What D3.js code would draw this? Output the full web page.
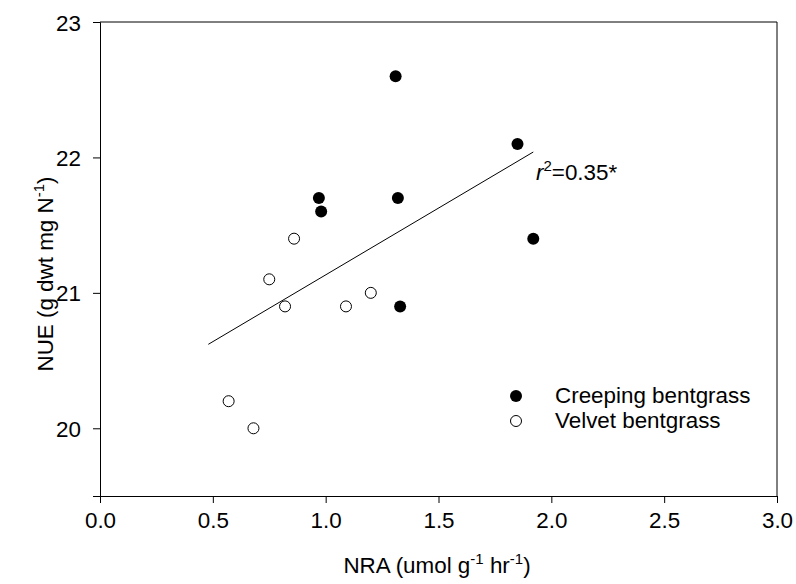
<!DOCTYPE html>
<html>
<head>
<meta charset="utf-8">
<script src="https://cdn.jsdelivr.net/npm/d3@7"></script>
<style>
  body { margin: 0; background: #fff; }
  svg text { font-family: "Liberation Sans", Arial, sans-serif; fill: #000; }
</style>
</head>
<body>
<svg id="chart" width="796" height="584"></svg>
<script>
// Creeping bentgrass (filled)
const creepingNRA = [1.31, 1.85, 0.97, 0.98, 1.32, 1.92, 1.33];
const creepingNUE = [22.6, 22.1, 21.7, 21.6, 21.7, 21.4, 20.9];
// Velvet bentgrass (open)
const velvetNRA = [0.86, 0.75, 0.82, 1.09, 1.20, 0.57, 0.68];
const velvetNUE = [21.4, 21.1, 20.9, 20.9, 21.0, 20.2, 20.0];
// regression line end points
const fitNRA = [0.48, 1.92];
const fitNUE = [20.62, 22.04];

const xTicks = [0, 0.5, 1.0, 1.5, 2.0, 2.5, 3.0];
const yTicks = [20, 21, 22, 23];

const svg = d3.select("#chart");
const plotL = 100, plotR = 777, plotT = 22, plotB = 496;
const fs = 22.4, sup = 15;

const x = d3.scaleLinear().domain([0, 3]).range([plotL, plotR]);
const y = d3.scaleLinear().domain([19.5, 23]).range([plotB, plotT]);

// frame (top and right)
svg.append("line")
    .attr("x1", plotL).attr("x2", plotR).attr("y1", plotT).attr("y2", plotT)
    .attr("stroke", "#000").attr("stroke-width", 1);
svg.append("line")
    .attr("x1", plotR).attr("x2", plotR).attr("y1", plotT).attr("y2", plotB)
    .attr("stroke", "#000").attr("stroke-width", 1);

// axes
const xAxis = svg.append("g")
    .attr("transform", `translate(0,${plotB})`)
    .call(d3.axisBottom(x).tickValues(xTicks).tickFormat(d3.format(".1f")).tickSizeOuter(0).tickSize(7).tickPadding(9));
const yAxis = svg.append("g")
    .attr("transform", `translate(${plotL},0)`)
    .call(d3.axisLeft(y).tickValues(yTicks).tickFormat(d3.format("d")).tickSizeOuter(0).tickSize(7).tickPadding(12));

[xAxis, yAxis].forEach(g => {
    g.attr("font-family", null).attr("font-size", null);
    g.selectAll("path, line").attr("stroke", "#000");
    g.selectAll("text").style("font-size", fs + "px");
});
yAxis.selectAll("text").attr("dy", "0.36em");

// regression line
svg.append("line")
    .attr("x1", x(fitNRA[0])).attr("y1", y(fitNUE[0]))
    .attr("x2", x(fitNRA[1])).attr("y2", y(fitNUE[1]))
    .attr("stroke", "#000").attr("stroke-width", 1);

// points
svg.append("g").selectAll("circle")
    .data(velvetNRA.map((d, i) => [d, velvetNUE[i]]))
    .enter().append("circle")
    .attr("cx", d => x(d[0])).attr("cy", d => y(d[1]))
    .attr("r", 5.5)
    .attr("fill", "#fff").attr("stroke", "#000").attr("stroke-width", 1);

svg.append("g").selectAll("circle")
    .data(creepingNRA.map((d, i) => [d, creepingNUE[i]]))
    .enter().append("circle")
    .attr("cx", d => x(d[0])).attr("cy", d => y(d[1]))
    .attr("r", 6)
    .attr("fill", "#000");

// r^2 label
const r2 = svg.append("text")
    .attr("x", 536).attr("y", 180)
    .style("font-size", fs + "px");
r2.append("tspan").style("font-style", "italic").text("r");
r2.append("tspan").attr("dy", -9).style("font-size", sup + "px").text("2");
r2.append("tspan").attr("dy", 9).text("=0.35*");

// legend
const legend = svg.append("g");
legend.append("circle").attr("cx", 516).attr("cy", 396).attr("r", 6).attr("fill", "#000");
legend.append("circle").attr("cx", 516).attr("cy", 421).attr("r", 5.5)
    .attr("fill", "#fff").attr("stroke", "#000");
legend.append("text").attr("x", 555).attr("y", 403).style("font-size", fs + "px").text("Creeping bentgrass");
legend.append("text").attr("x", 555).attr("y", 428).style("font-size", fs + "px").text("Velvet bentgrass");

// x title
const xt = svg.append("text")
    .attr("x", 437).attr("y", 573)
    .attr("text-anchor", "middle")
    .style("font-size", fs + "px");
xt.append("tspan").text("NRA (umol g");
xt.append("tspan").attr("dy", -9).style("font-size", sup + "px").text("-1");
xt.append("tspan").attr("dy", 9).text(" hr");
xt.append("tspan").attr("dy", -9).style("font-size", sup + "px").text("-1");
xt.append("tspan").attr("dy", 9).text(")");

// y title
const yt = svg.append("text")
    .attr("transform", "translate(53,274) rotate(-90)")
    .attr("text-anchor", "middle")
    .style("font-size", fs + "px");
yt.append("tspan").text("NUE (g dwt mg N");
yt.append("tspan").attr("dy", -9).style("font-size", sup + "px").text("-1");
yt.append("tspan").attr("dy", 9).text(")");
</script>
</body>
</html>
